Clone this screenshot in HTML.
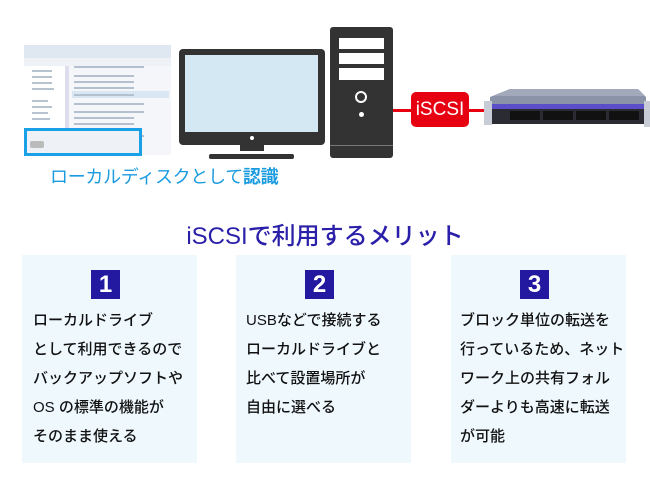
<!DOCTYPE html>
<html><head><meta charset="utf-8"><style>
body{margin:0;width:650px;height:485px;background:#fff;position:relative;overflow:hidden;font-family:"Liberation Sans","Noto Sans CJK JP",sans-serif}
.a{position:absolute}
.card{position:absolute;top:255px;width:175px;height:208px;background:#eef8fd}
.num{position:absolute;top:15px;width:29px;height:29px;background:#2318a0;color:#fff;font-weight:bold;font-size:24px;line-height:29px;text-align:center}
.txt{position:absolute;top:51px;font-size:15px;line-height:29px;color:#111;white-space:nowrap;font-weight:500}
</style></head><body>
<!-- screenshot -->
<div class="a" style="left:24px;top:45px;width:147px;height:110px;background:#f4f6f9"></div>
<div class="a" style="left:24px;top:45px;width:147px;height:13px;background:#dfe7f1"></div>
<div class="a" style="left:24px;top:58px;width:147px;height:8px;background:#eef2f7"></div>
<div class="a" style="left:24px;top:66px;width:41px;height:62px;background:#fff"></div>
<div class="a" style="left:65px;top:66px;width:4px;height:62px;background:#dde"></div>
<svg class="a" style="left:24px;top:45px" width="147" height="110">
<g fill="#9ab" opacity=".7">
<rect x="8" y="25" width="20" height="2"/><rect x="8" y="31" width="20" height="2"/><rect x="8" y="37" width="20" height="2"/><rect x="8" y="43" width="22" height="2"/>
<rect x="8" y="55" width="16" height="2"/><rect x="8" y="61" width="20" height="2"/><rect x="8" y="67" width="16" height="2"/><rect x="8" y="73" width="18" height="2"/>
<rect x="50" y="21" width="70" height="2"/><rect x="50" y="30" width="60" height="2"/><rect x="50" y="36" width="60" height="2"/><rect x="50" y="42" width="60" height="2"/>
<rect x="48" y="46" width="97" height="7" fill="#cfe0f2"/><rect x="50" y="49" width="60" height="2"/>
<rect x="50" y="58" width="70" height="2"/><rect x="50" y="66" width="70" height="2"/><rect x="50" y="72" width="60" height="2"/><rect x="50" y="78" width="60" height="2"/><rect x="50" y="86" width="40" height="2"/>
<rect x="30" y="97" width="60" height="2"/><rect x="30" y="102" width="40" height="2"/><rect x="80" y="90" width="40" height="2"/>
</g></svg>
<div class="a" style="left:24px;top:128px;width:112px;height:22px;border:3px solid #1aa0e6;background:#eef1f5"></div>
<div class="a" style="left:30px;top:141px;width:14px;height:7px;background:#bbb;border-radius:2px"></div>
<div class="a" style="left:50px;top:163px;font-size:18px;color:#1a9be0;white-space:nowrap;letter-spacing:-0.3px">ローカルディスクとして<b>認識</b></div>
<!-- monitor -->
<div class="a" style="left:179px;top:49px;width:146px;height:96px;background:#333;border-radius:4px"></div>
<div class="a" style="left:185px;top:55px;width:133px;height:77px;background:#d3e8f3"></div>
<div class="a" style="left:250px;top:136px;width:4px;height:4px;background:#fff;border-radius:50%"></div>
<div class="a" style="left:240px;top:145px;width:24px;height:6px;background:#333"></div>
<div class="a" style="left:209px;top:154px;width:85px;height:5px;background:#333;border-radius:2px"></div>
<!-- tower -->
<div class="a" style="left:330px;top:27px;width:63px;height:131px;background:#333;border-radius:3px"></div>
<div class="a" style="left:339px;top:38px;width:45px;height:11px;background:#fff"></div>
<div class="a" style="left:339px;top:53px;width:45px;height:11px;background:#fff"></div>
<div class="a" style="left:339px;top:68px;width:45px;height:12px;background:#fff"></div>
<div class="a" style="left:355px;top:91px;width:8px;height:8px;border:2.5px solid #fff;border-radius:50%"></div>
<div class="a" style="left:359px;top:112px;width:5px;height:5px;background:#fff;border-radius:50%"></div>
<div class="a" style="left:330px;top:145px;width:63px;height:1px;background:#777"></div>
<!-- iSCSI -->
<div class="a" style="left:393px;top:109px;width:94px;height:3px;background:#e60012"></div>
<div class="a" style="left:411px;top:92px;width:58px;height:35px;background:#e60012;border-radius:5px;color:#fff;font-size:19px;line-height:35px;text-align:center;font-weight:500">iSCSI</div>
<!-- server -->
<svg class="a" style="left:480px;top:85px" width="170" height="50">
<polygon points="30,4 158,4 166,12 166,20 10,20 10,12" fill="#8a93a8"/>
<polygon points="30,4 158,4 165,11 14,11" fill="#a1a9ba"/>
<rect x="10" y="19" width="156" height="20" fill="#2b2b33"/>
<rect x="10" y="19" width="156" height="5" fill="#5a4fc8"/>
<rect x="30" y="26" width="30" height="9" fill="#111"/><rect x="63" y="26" width="30" height="9" fill="#111"/><rect x="96" y="26" width="30" height="9" fill="#111"/><rect x="129" y="26" width="30" height="9" fill="#111"/>
<rect x="4" y="16" width="8" height="24" fill="#c8ccd6"/><rect x="164" y="16" width="6" height="26" fill="#c8ccd6"/>
</svg>
<!-- title -->
<div class="a" style="left:0;width:650px;top:216px;text-align:center;font-size:24px;color:#2a1fa8;font-weight:500">iSCSIで利用するメリット</div>
<div class="card" style="left:22px"><div class="num" style="left:69px">1</div>
<div class="txt" style="left:11px">ローカルドライブ<br>として利用できるので<br>バックアップソフトや<br>OS の標準の機能が<br>そのまま使える</div></div>
<div class="card" style="left:236px"><div class="num" style="left:69px">2</div>
<div class="txt" style="left:10px">USBなどで接続する<br>ローカルドライブと<br>比べて設置場所が<br>自由に選べる</div></div>
<div class="card" style="left:451px"><div class="num" style="left:69px">3</div>
<div class="txt" style="left:9px">ブロック単位の転送を<br>行っているため、ネット<br>ワーク上の共有フォル<br>ダーよりも高速に転送<br>が可能</div></div>
</body></html>
